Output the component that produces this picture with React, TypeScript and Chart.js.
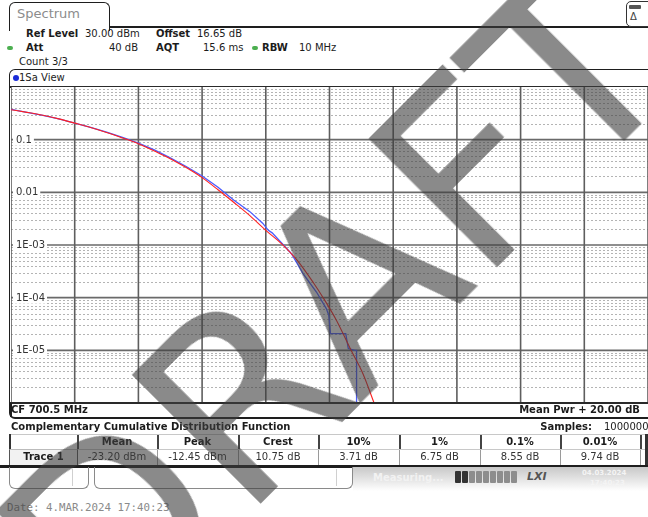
import React, { useEffect, useRef } from 'react';
import { Chart, registerables } from 'chart.js';

Chart.register(...registerables);

// ---- data ----
const powerDbRed = [0, 0.5, 1, 1.5, 2, 2.5, 3, 3.5, 4, 4.5, 5, 5.5, 6, 6.5, 7, 7.5, 8, 8.5, 9, 9.5, 9.8, 10.22, 10.69, 11.05, 11.4];
const probRed = [0.371, 0.33, 0.29, 0.248, 0.206, 0.17, 0.137, 0.108, 0.084, 0.061, 0.0436, 0.0295, 0.019, 0.0112, 0.0064, 0.0036, 0.0019, 0.00105, 0.0005, 0.00019, 0.0001, 0.000037, 0.0000097, 0.0000036, 0.000001];

const powerDbBlue = [0, 0.5, 1, 1.5, 2, 2.5, 3, 3.5, 4, 4.5, 5, 5.5, 6, 6.5, 7, 7.5, 7.9, 8.08, 8.2, 8.8, 9.17, 9.59, 9.9, 9.98, 10.03, 10.51, 10.59, 10.8, 10.85, 10.85, 20];
const probBlue = [0.375, 0.33, 0.29, 0.249, 0.207, 0.171, 0.139, 0.11, 0.086, 0.064, 0.045, 0.031, 0.0204, 0.0125, 0.0071, 0.0043, 0.0026, 0.0019, 0.0017, 0.00069, 0.000286, 0.000128, 0.000062, 0.000046, 0.0000208, 0.0000208, 0.0000108, 0.00001, 0.00001, 0.000001, 0.000001];

const xGridValues = [0, 2, 4, 6, 8, 10, 12, 14, 16, 18, 20];
const yDecades = [1e-6, 1e-5, 1e-4, 1e-3, 1e-2, 1e-1];
const yMinorMultipliers = [2, 3, 4, 5, 6, 7, 8, 9];
const yTickValues = [0.1, 0.01, 1e-3, 1e-4, 1e-5];
const yTickLabels = ['0.1', '0.01', '1E-03', '1E-04', '1E-05'];

const tableHeaders = ['Mean', 'Peak', 'Crest', '10%', '1%', '0.1%', '0.01%'];
const trace1Values = ['-23.20 dBm', '-12.45 dBm', '10.75 dB', '3.71 dB', '6.75 dB', '8.55 dB', '9.74 dB'];

// layout constants
const colEdges = [77, 157, 238, 318, 399, 480, 560, 640];
const FONT = '"DejaVu Sans", Verdana, sans-serif';

const gridPlugin = {
  id: 'ccdfGrid',
  beforeDatasetsDraw(chart: any) {
    const { ctx, chartArea: a, scales } = chart;
    const x = scales.x;
    const y = scales.y;
    ctx.save();
    ctx.fillStyle = '#ffffff';
    ctx.fillRect(a.left, a.top, a.right - a.left, a.bottom - a.top);
    ctx.setLineDash([2, 2]);
    ctx.strokeStyle = '#b4b4b4';
    ctx.lineWidth = 1;
    yDecades.forEach((d) => {
      yMinorMultipliers.forEach((m) => {
        const v = d * m;
        if (v >= 1) return;
        const py = Math.round(y.getPixelForValue(v)) + 0.5;
        ctx.beginPath();
        ctx.moveTo(a.left, py);
        ctx.lineTo(a.right, py);
        ctx.stroke();
      });
    });
    ctx.setLineDash([]);
    ctx.strokeStyle = '#6a6a6a';
    ctx.lineWidth = 1.6;
    yDecades.forEach((d) => {
      if (d <= 1e-6) return;
      const py = y.getPixelForValue(d);
      ctx.beginPath();
      ctx.moveTo(a.left, py);
      ctx.lineTo(a.right, py);
      ctx.stroke();
    });
    ctx.strokeStyle = '#5e5e5e';
    ctx.lineWidth = 1.6;
    xGridValues.forEach((v) => {
      const px = x.getPixelForValue(v);
      ctx.beginPath();
      ctx.moveTo(px, a.top);
      ctx.lineTo(px, a.bottom);
      ctx.stroke();
    });
    ctx.restore();
  },
  afterDatasetsDraw(chart: any) {
    const { ctx, chartArea: a, scales } = chart;
    const y = scales.y;
    ctx.save();
    ctx.font = '10px ' + FONT;
    ctx.textBaseline = 'middle';
    ctx.textAlign = 'left';
    yTickValues.forEach((v, i) => {
      const py = y.getPixelForValue(v);
      const w = ctx.measureText(yTickLabels[i]).width;
      ctx.fillStyle = '#ffffff';
      ctx.fillRect(a.left + 2, py - 6, w + 5, 12);
      ctx.fillStyle = '#333333';
      ctx.fillText(yTickLabels[i], a.left + 5, py + 0.5);
    });
    ctx.restore();
  },
};

function CcdfChart() {
  const ref = useRef<HTMLCanvasElement | null>(null);
  useEffect(() => {
    if (!ref.current) return;
    const chart = new Chart(ref.current, {
      type: 'line',
      data: {
        datasets: [
          {
            label: 'Gaussian',
            data: powerDbRed.map((d, i) => ({ x: d, y: probRed[i] })),
            borderColor: '#ff2020',
            borderWidth: 1.1,
            pointRadius: 0,
            cubicInterpolationMode: 'monotone',
            clip: 3,
          },
          {
            label: 'Trace 1',
            data: powerDbBlue.map((d, i) => ({ x: d, y: probBlue[i] })),
            borderColor: '#4a5cff',
            borderWidth: 1.3,
            pointRadius: 0,
            tension: 0,
            clip: 3,
          },
        ],
      },
      options: {
        animation: false,
        responsive: true,
        maintainAspectRatio: false,
        devicePixelRatio: 1,
        layout: { padding: { left: 0, right: 0, top: 0, bottom: 2 } },
        plugins: { legend: { display: false }, tooltip: { enabled: false } },
        events: [],
        scales: {
          x: { type: 'linear', min: 0, max: 20, display: false },
          y: { type: 'logarithmic', min: 1e-6, max: 1, display: false },
        },
      },
      plugins: [gridPlugin],
    } as any);
    return () => chart.destroy();
  }, []);
  return (
    <div style={{ position: 'absolute', left: 11, top: 87, width: 637, height: 318 }}>
      <canvas ref={ref} />
    </div>
  );
}

function T(props: { x: number; y: number; children: any; bold?: boolean; right?: boolean; center?: number; size?: number; color?: string; font?: string; italic?: boolean }) {
  const { x, y, children, bold, right, center, size = 10, color = '#1c1c1c', font = FONT, italic } = props;
  const lh = 14;
  const style: any = {
    position: 'absolute',
    top: y - lh / 2,
    lineHeight: lh + 'px',
    height: lh,
    fontSize: size,
    fontFamily: font,
    fontWeight: bold ? 'bold' : 'normal',
    fontStyle: italic ? 'italic' : 'normal',
    color,
    whiteSpace: 'nowrap',
  };
  if (center !== undefined) {
    style.left = x;
    style.width = center;
    style.textAlign = 'center';
  } else if (right) {
    style.right = 648 - x;
  } else {
    style.left = x;
  }
  return <div style={style}>{children}</div>;
}

function Line(props: { x: number; y: number; w: number; h: number; c: string }) {
  return <div style={{ position: 'absolute', left: props.x, top: props.y, width: props.w, height: props.h, background: props.c }} />;
}

function GreenDot({ x, y }: { x: number; y: number }) {
  return <div style={{ position: 'absolute', left: x, top: y - 2, width: 6, height: 4, borderRadius: 2, background: '#4caf50' }} />;
}

export default function App() {
  const progress = [1, 1, 0, 0, 0, 0, 0, 0, 0];
  return (
    <div style={{ position: 'fixed', left: 0, top: 0, width: 648, height: 517, overflow: 'hidden', background: '#ffffff', fontFamily: FONT }}>
      {/* tab */}
      <div style={{ position: 'absolute', left: 9, top: 2, width: 99, height: 28, border: '1.5px solid #1e1e1e', borderBottom: 'none', borderRadius: '6px 6px 0 0' }} />
      <Line x={109} y={26} w={540} h={2} c="#1e1e1e" />
      <T x={17} y={14} size={13} color="#8c8c8c">Spectrum</T>
      {/* top right icon */}
      <div style={{ position: 'absolute', left: 626, top: 1, width: 26, height: 24, border: '1.5px solid #333', borderRadius: 5, background: '#fff' }} />
      <div style={{ position: 'absolute', left: 629, top: 5, width: 12, height: 4, background: '#555', borderRadius: 1 }} />
      <T x={630} y={17} size={10} color="#444">Δ</T>

      {/* settings */}
      <T x={26} y={34} bold>Ref Level</T>
      <T x={85} y={34}>30.00 dBm</T>
      <T x={156} y={34} bold>Offset</T>
      <T x={197} y={34}>16.65 dB</T>
      <GreenDot x={7} y={48} />
      <T x={26} y={48} bold>Att</T>
      <T x={138} y={48} right>40 dB</T>
      <T x={156} y={48} bold>AQT</T>
      <T x={203} y={48}>15.6 ms</T>
      <GreenDot x={252} y={48} />
      <T x={262} y={48} bold>RBW</T>
      <T x={299} y={48}>10 MHz</T>
      <T x={19} y={62}>Count 3/3</T>

      {/* main window box */}
      <div style={{ position: 'absolute', left: 9, top: 69, width: 660, height: 347, border: '1.5px solid #1e1e1e', borderBottomWidth: 2.5, borderRadius: 6 }} />
      <div style={{ position: 'absolute', left: 13, top: 75, width: 6, height: 6, borderRadius: 3, background: '#1a2bd8' }} />
      <T x={19} y={78}>1Sa View</T>
      <Line x={10} y={86} w={640} h={1.5} c="#2a2a2a" />
      <CcdfChart />
      <Line x={10} y={402} w={640} h={1.5} c="#2a2a2a" />
      <div style={{ position: 'absolute', left: 10, top: 403, width: 1.5, height: 14, background: '#1e1e1e' }} />
      <T x={11} y={410} bold>CF 700.5 MHz</T>
      <T x={640} y={410} bold right>Mean Pwr + 20.00 dB</T>

      {/* CCDF result table */}
      <T x={11} y={427} bold>Complementary Cumulative Distribution Function</T>
      <T x={592} y={427} bold right>Samples:</T>
      <T x={604} y={427}>1000000</T>
      <Line x={10} y={434} w={640} h={1} c="#c8c8c8" />
      <Line x={77} y={449} w={570} h={1} c="#c8c8c8" />
      <Line x={9} y={434} w={1.5} h={32} c="#333" />
      {tableHeaders.map((h, i) => (
        <T key={'h' + i} x={colEdges[i]} y={442} center={colEdges[i + 1] - colEdges[i]} bold>{h}</T>
      ))}
      {colEdges.map((cx, i) => (
        <Line key={'d' + i} x={cx} y={435} w={1.5} h={14} c="#444" />
      ))}
      {colEdges.map((cx, i) => (
        <Line key={'e' + i} x={cx} y={450} w={1} h={15} c="#9a9a9a" />
      ))}
      <Line x={645} y={434} w={3} h={32} c="#333" />
      <div style={{ position: 'absolute', left: 9, top: 449, width: 67, height: 15, border: '1px solid #555', borderTopColor: '#bbb', background: '#f2f2f2' }} />
      <T x={9} y={457} center={69} bold>Trace 1</T>
      {trace1Values.map((v, i) => (
        <T key={'v' + i} x={colEdges[i]} y={457} center={colEdges[i + 1] - colEdges[i]} color="#333">{v}</T>
      ))}
      <Line x={0} y={465} w={648} h={2.5} c="#1e1e1e" />

      {/* status bar */}
      <div style={{ position: 'absolute', left: 9, top: 467, width: 78, height: 21, border: '1px solid #8a8a8a', borderTop: 'none', borderRadius: '0 0 6px 6px' }} />
      <Line x={72} y={469} w={1} h={17} c="#d0d0d0" />
      <div style={{ position: 'absolute', left: 94, top: 467, width: 257, height: 21, border: '1px solid #8a8a8a', borderTop: 'none', borderRadius: '0 0 6px 6px' }} />
      <Line x={336} y={469} w={1} h={17} c="#d0d0d0" />
      <div style={{ position: 'absolute', left: 353, top: 467, width: 295, height: 24, background: 'linear-gradient(#c8c8c8, #ffffff)' }} />
      <T x={373} y={478} bold color="#f2f2f2">Measuring...</T>
      {progress.map((p, i) => (
        <div key={'p' + i} style={{ position: 'absolute', left: 455 + i * 7, top: 471, width: 6, height: 12, background: p ? '#333' : '#8d8d8d', borderRadius: 1 }} />
      ))}
      <T x={527} y={477} bold italic size={11} color="#555">LXI</T>
      <T x={582} y={473} size={7} bold color="#f4f4f4">04.03.2024</T>
      <T x={590} y={483} size={7} bold color="#f4f4f4">17:40:23</T>

      {/* date footer */}
      <T x={7} y={508} size={10.8} font={'"DejaVu Sans Mono", monospace'} color="#8a8a8a">{'Date: 4.MAR.2024  17:40:23'}</T>

      {/* watermark */}
      <div style={{ position: 'absolute', left: -42, top: 508, transformOrigin: '0 0', transform: 'rotate(-45deg)', fontSize: 250, lineHeight: 1, fontFamily: '"DejaVu Sans"', color: 'rgba(60,60,60,0.6)', whiteSpace: 'nowrap', pointerEvents: 'none' }}>DRAFT</div>
    </div>
  );
}
